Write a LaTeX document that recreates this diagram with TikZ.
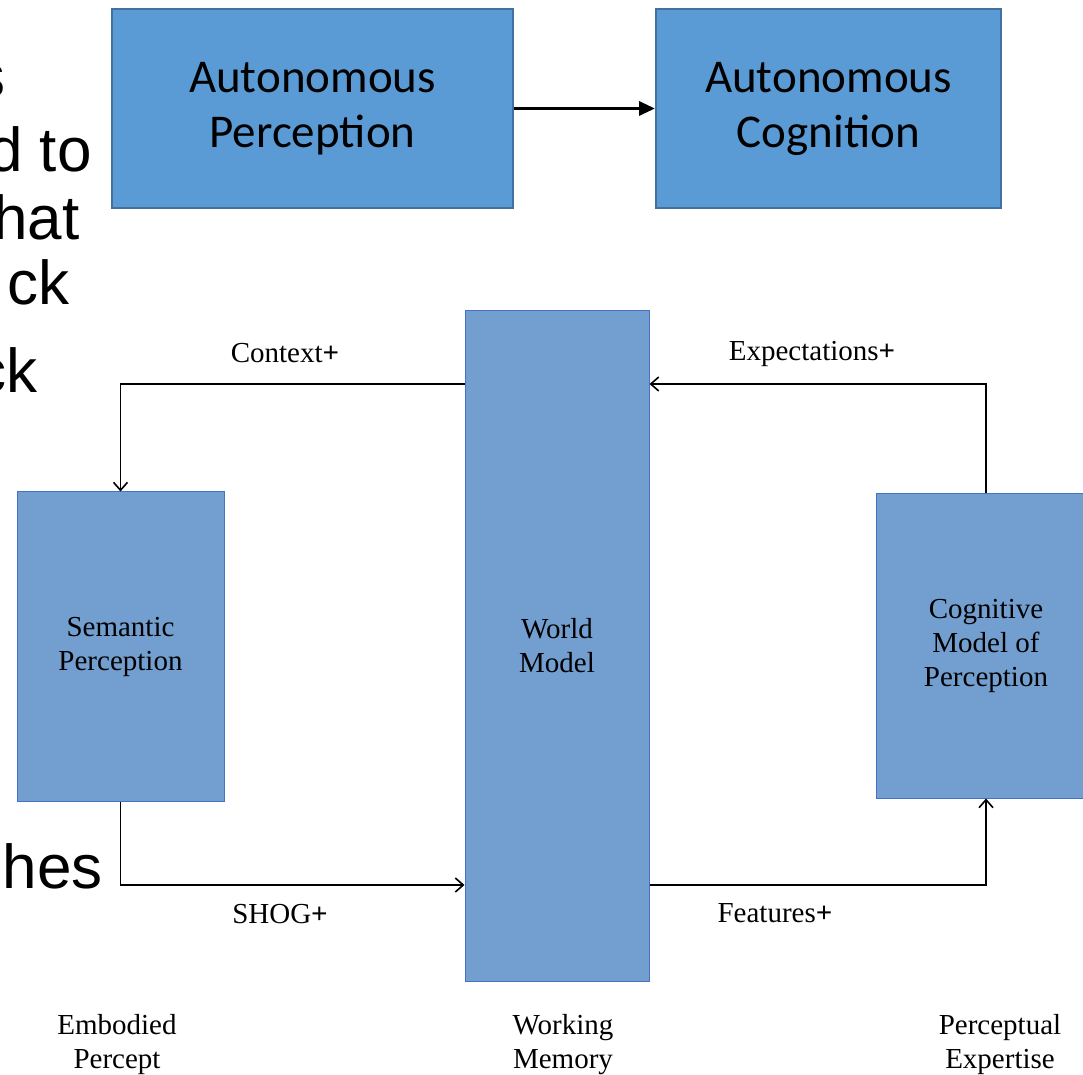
\documentclass[tikz,border=0pt]{standalone}
\usepackage{fontspec}
\setmainfont{Liberation Serif}
\newfontfamily\calibri{Carlito}
\newfontfamily\arial{Liberation Sans}
\usetikzlibrary{arrows.meta}

\definecolor{topblue}{HTML}{5B9BD5}
\definecolor{topedge}{HTML}{41719C}
\definecolor{lowblue}{HTML}{729FCF}
\definecolor{lowedge}{HTML}{4472C4}

\begin{document}
\begin{tikzpicture}[
        x=0.5pt, y=-0.5pt,
        topbox/.style={
            draw=topedge, fill=topblue, line width=1pt,
            minimum width=#1, minimum height=99.5pt,
            align=center, inner sep=0pt,
            font=\calibri\fontsize{23.5}{27.5}\selectfont
        },
        unit/.style n args={2}{
            draw=lowedge, fill=lowblue, line width=0.5pt,
            minimum width=#1, minimum height=#2,
            align=center, inner sep=0pt,
            font=\fontsize{14.5}{17}\selectfont
        },
        tag/.style={align=center, inner sep=0pt, font=\fontsize{14.5}{17}\selectfont},
        scrap/.style={anchor=base east, inner sep=0pt, font=\arial\fontsize{31}{36}\selectfont},
        link/.style={line width=0.8pt, -{Straight Barb[length=4pt,width=7pt]}},
        flow/.style={line width=1.6pt, -{Triangle[length=8pt,width=7pt]}}
    ]
    \useasboundingbox (0,0) rectangle (1083,1075);
    \clip (0,0) rectangle (1083,1075);

    % --- Slide text behind the figure ---
    \node[scrap] (s1) at (6,98)   {s};
    \node[scrap] (s2) at (92,172) {d to};
    \node[scrap] (s3) at (80,240) {hat};
    \node[scrap] (s4) at (70,305) {ck};
    \node[scrap] (s5) at (38,393) {ck};
    \node[scrap] (s6) at (103,888) {hes};

    % --- Top ---
    \node[topbox=200.5pt] (ap) at (312.5,108.5) {Autonomous\\Perception};
    \node[topbox=172.5pt] (ac) at (828.5,108.5) {Autonomous\\Cognition};
    \draw[flow] (ap) -- (ac);

    % --- Three units ---
    \node[unit={103.5pt}{154.5pt}] (sp) at (120.5,646.5) {Semantic\\Perception};
    \node[unit={92pt}{335pt}]      (wm) at (557,646)     {World\\Model};
    \node[unit={110pt}{152pt}]     (cm) at (986,646)     {Cognitive\\Model of\\Perception};

    % --- Connectors ---
    \coordinate (uprow)  at (0,384);
    \coordinate (lowrow) at (0,885);
    \draw[link] (wm.west |- uprow) -| (sp.north);
    \draw[link] (cm.north) |- (wm.east |- uprow);
    \draw[link] (sp.south) |- (wm.west |- lowrow);
    \draw[link] (wm.east |- lowrow) -| (cm.south);

    \node[tag] (ctx) at (285,353) {Context\textbf{+}};
    \node[tag] (exp) at (812,354) {Expectations\textbf{+}};
    \node[tag] (shg) at (280,914) {SHOG\textbf{+}};
    \node[tag] (fea) at (775,913) {Features\textbf{+}};

    % --- Bottom row ---
    \node[tag] (ep) at (117,1045) {Embodied\\Percept};
    \node[tag] (wk) at (563,1045) {Working\\Memory};
    \node[tag] (pe) at (1000,1045) {Perceptual\\Expertise};

\end{tikzpicture}
\end{document}
